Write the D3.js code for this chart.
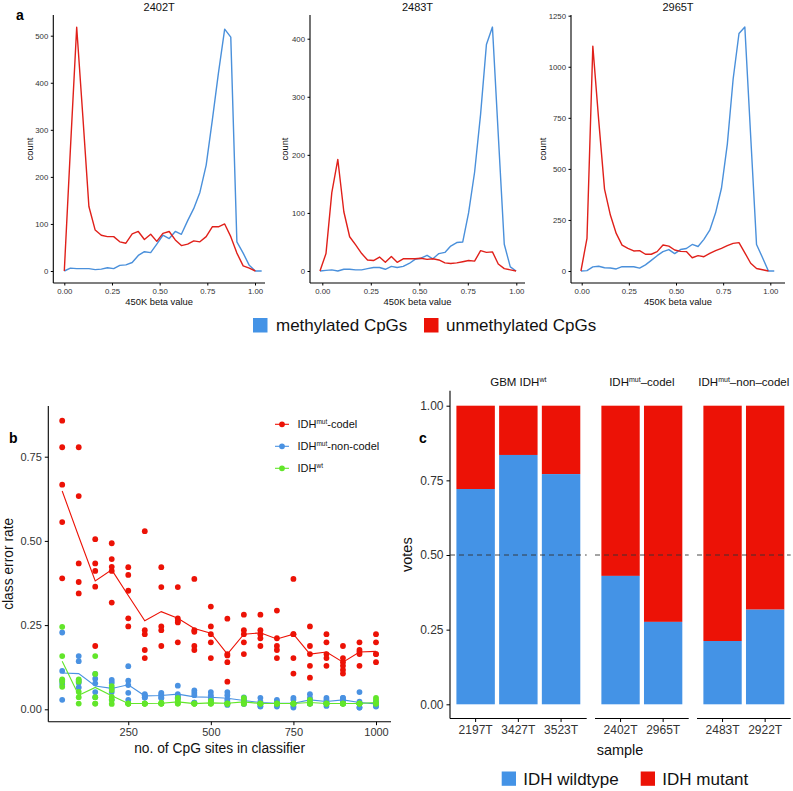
<!DOCTYPE html>
<html><head><meta charset="utf-8">
<script src="https://cdn.jsdelivr.net/npm/d3@7"></script>
<style>
body{margin:0;background:#fff}
svg{display:block;font-family:"Liberation Sans",Arial,Helvetica,sans-serif}
</style>
</head><body>
<svg id="chart" width="793" height="791"></svg>
<script>
// ---------------- DATA ----------------
// Panel a: frequency polygons of 450K beta values (bin centres and counts)
const bins2402T = [0.000,0.032,0.065,0.097,0.129,0.162,0.194,0.226,0.259,0.291,0.323,0.356,0.388,0.420,0.453,0.485,0.517,0.550,0.582,0.614,0.647,0.679,0.711,0.744,0.776,0.808,0.841,0.873,0.905,0.938,0.970,1.002,1.035];
const meth2402T   = [0,6,5,5,5,3,4,7,5,12,13,18,33,41,39,57,76,69,84,78,107,133,167,225,320,420,514,497,62,38,12,0,0];
const unmeth2402T = [0,259,518,330,137,87,76,73,73,62,59,79,84,67,78,63,80,84,66,54,57,64,62,73,94,94,100,73,38,11,6,0];

const bins2483T = [-0.012,0.019,0.049,0.080,0.111,0.141,0.172,0.203,0.233,0.264,0.295,0.325,0.356,0.386,0.417,0.448,0.478,0.509,0.540,0.570,0.601,0.632,0.662,0.693,0.724,0.754,0.785,0.816,0.846,0.877,0.907,0.938,0.969,0.999];
const meth2483T   = [0,1,2,0,3,3,2,2,4,6,6,3,8,6,8,13,20,22,27,21,30,32,43,49,50,100,170,270,390,420,235,46,7,0];
const unmeth2483T = [0,30,135,192,102,59,45,30,19,18,24,15,25,15,21,21,21,22,20,21,19,14,13,14,16,18,17,35,32,33,12,4,2,0];

const bins2965T = [-0.004,0.028,0.059,0.090,0.121,0.152,0.183,0.214,0.245,0.276,0.307,0.338,0.369,0.400,0.431,0.462,0.493,0.524,0.555,0.586,0.617,0.648,0.679,0.710,0.741,0.772,0.803,0.834,0.865,0.896,0.927,0.959,0.990,1.021];
const meth2965T   = [0,2,20,23,16,15,10,21,21,21,14,30,52,75,95,105,85,105,110,130,120,155,200,285,405,620,940,1163,1195,660,130,65,0,0];
const unmeth2965T = [0,160,1101,740,401,274,184,127,111,98,100,82,82,95,127,122,103,96,95,65,75,70,86,100,111,124,135,139,89,38,12,6,0];

const betaTicks = [0,0.25,0.5,0.75,1];
const countTicks2402T = [0,100,200,300,400,500];
const countTicks2483T = [0,100,200,300,400];
const countTicks2965T = [0,250,500,750,1000,1250];
const methLegend = ["methylated CpGs","unmethylated CpGs"];

// Panel b: class error rate vs number of CpG sites
const nSites = [50,100,150,200,250,300,350,400,450,500,550,600,650,700,750,800,850,900,950,1000];
const errCodel = [
 [0.857,0.778,0.667,0.556,0.389],[0.778,0.633,0.433,0.378,0.344],[0.505,0.433,0.411,0.364,0.188],
 [0.493,0.446,0.423,0.411,0.317],[0.422,0.399,0.352,0.270,0.246],[0.529,0.235,0.223,0.176,0.152],
 [0.422,0.363,0.246,0.235,0.188],[0.363,0.270,0.262,0.258,0.199],[0.387,0.235,0.230,0.188,0.176],
 [0.305,0.246,0.223,0.199,0.152],[0.269,0.164,0.160,0.140,0.082],[0.281,0.235,0.223,0.199,0.164],
 [0.281,0.235,0.223,0.211,0.188],[0.293,0.211,0.188,0.176,0.152],[0.387,0.223,0.223,0.152,0.106],
 [0.246,0.188,0.164,0.129,0.094],[0.223,0.199,0.164,0.152,0.129],[0.188,0.152,0.140,0.129,0.117,0.106],
 [0.199,0.176,0.170,0.164,0.129],[0.223,0.199,0.164,0.164,0.140]];
const errNonCodel = [
 [0.228,0.114,0.085,0.075,0.028],[0.158,0.143,0.085,0.079,0.065],[0.105,0.091,0.077,0.051,0.036],
 [0.087,0.079,0.062,0.051,0.028],[0.128,0.085,0.072,0.049,0.028],[0.045,0.042,0.040,0.035,0.035],
 [0.049,0.045,0.040,0.035,0.033],[0.070,0.045,0.040,0.035,0.033],[0.056,0.049,0.042,0.020,0.020],
 [0.051,0.042,0.035,0.028,0.025],[0.051,0.042,0.030,0.023,0.013],[0.035,0.028,0.025,0.023,0.016],
 [0.034,0.023,0.016,0.010,0.008],[0.028,0.023,0.017,0.012,0.008],[0.034,0.028,0.017,0.010,0.005],
 [0.045,0.034,0.028,0.017,0.017],[0.034,0.028,0.023,0.017,0.010],[0.034,0.034,0.028,0.023,0.017],
 [0.051,0.023,0.017,0.005,0.005],[0.023,0.017,0.017,0.010,0.008]];
const errWt = [
 [0.245,0.158,0.089,0.082,0.067],[0.089,0.082,0.052,0.036,0.017],[0.158,0.105,0.036,0.017,0.017],
 [0.069,0.057,0.037,0.028,0.016],[0.017,0.017,0.017,0.017,0.017],[0.017,0.017,0.017,0.017,0.017],
 [0.020,0.017,0.017,0.017,0.017],[0.034,0.028,0.023,0.017,0.017],[0.017,0.017,0.017,0.017,0.017],
 [0.025,0.020,0.017,0.017,0.017],[0.017,0.017,0.017,0.017,0.017],[0.034,0.028,0.017,0.017,0.017],
 [0.017,0.017,0.017,0.017,0.017],[0.017,0.017,0.017,0.017,0.017],[0.017,0.017,0.017,0.017,0.017],
 [0.028,0.020,0.017,0.017,0.017],[0.017,0.017,0.017,0.017,0.017],[0.017,0.017,0.017,0.017,0.017],
 [0.017,0.017,0.017,0.017,0.017],[0.034,0.028,0.017,0.017,0.017]];
const meanCodel    = [0.648,0.513,0.381,0.414,0.338,0.263,0.290,0.270,0.240,0.226,0.164,0.223,0.227,0.209,0.223,0.164,0.170,0.140,0.170,0.172];
const meanNonCodel = [0.108,0.106,0.069,0.062,0.073,0.040,0.041,0.045,0.037,0.036,0.033,0.026,0.020,0.018,0.018,0.028,0.023,0.028,0.020,0.016];
const meanWt       = [0.143,0.042,0.065,0.040,0.017,0.017,0.018,0.022,0.017,0.019,0.018,0.022,0.017,0.017,0.017,0.020,0.017,0.017,0.017,0.020];
const errTicksX = [250,500,750,1000];
const errTicksY = [0,0.25,0.5,0.75];

// Panel c: classifier votes per sample
const samples = ["2197T","3427T","3523T","2402T","2965T","2483T","2922T"];
const sampleGroup = [0,0,0,1,1,2,2];
const wildtypeVotes = [0.721,0.835,0.771,0.430,0.276,0.212,0.317];
const voteTicks = [0,0.25,0.5,0.75,1];
const voteLegend = ["IDH wildtype","IDH mutant"];

// ---------------- STYLE ----------------
const BLUE = "#4493E6", RED = "#EC1206", GREEN = "#62E62A";
const LBLUE = "#4A90DB", LRED = "#E0201A";
const TXT = "#333";
const svg = d3.select("#chart");

function styleAxis(sel, fs){
  sel.select(".domain").remove();
  sel.selectAll(".tick line").attr("stroke","#000").attr("stroke-width",1);
  sel.selectAll(".tick text").attr("fill",TXT).style("font-size",fs+"px")
     .style("font-family",'"Liberation Sans",Arial,Helvetica,sans-serif');
}
function hline(g,x1,x2,y){g.append("line").attr("x1",x1).attr("x2",x2).attr("y1",y).attr("y2",y).attr("stroke","#000").attr("stroke-width",1.1);}
function vline(g,x,y1,y2){g.append("line").attr("x1",x).attr("x2",x).attr("y1",y1).attr("y2",y2).attr("stroke","#000").attr("stroke-width",1.1);}

// ---------------- PANEL A ----------------
function histPanel(o){
  const g = svg.append("g");
  const x = d3.scaleLinear().domain([0,1]).range([o.x0,o.x1]);
  const y = d3.scaleLinear().domain([0,o.yRefVal]).range([271,o.yRefPx]);
  const axY = 283;
  const xa = g.append("g").attr("transform",`translate(0,${axY})`)
    .call(d3.axisBottom(x).tickValues(betaTicks).tickFormat(d3.format(".2f")).tickSize(2.5).tickPadding(2.5));
  styleAxis(xa,7.8);
  const ya = g.append("g").attr("transform",`translate(${o.axisX},0)`)
    .call(d3.axisLeft(y).tickValues(o.yTicks).tickFormat(d3.format("d")).tickSize(2.5).tickPadding(2.5));
  styleAxis(ya,7.8);
  vline(g,o.axisX,15,axY); hline(g,o.axisX,o.xEnd,axY);
  const line = bins => d3.line().x((d,i)=>x(bins[i])).y(d=>y(d));
  g.append("path").datum(o.meth).attr("d",line(o.bins)).attr("fill","none").attr("stroke",LBLUE).attr("stroke-width",1.4).attr("stroke-linejoin","round");
  g.append("path").datum(o.unmeth).attr("d",line(o.bins)).attr("fill","none").attr("stroke",LRED).attr("stroke-width",1.4).attr("stroke-linejoin","round");
  g.append("text").attr("x",(o.axisX+o.xEnd)/2).attr("y",10.5).attr("text-anchor","middle").style("font-size","11px").attr("fill","#111").text(o.title);
  g.append("text").attr("x",(o.axisX+o.xEnd)/2).attr("y",304.5).attr("text-anchor","middle").style("font-size","9.4px").attr("fill","#111").text("450K beta value");
  g.append("text").attr("transform",`translate(${o.axisX-o.ylabOff},${(15+axY)/2}) rotate(-90)`).attr("text-anchor","middle").style("font-size","9.4px").attr("fill","#111").text("count");
}
histPanel({title:"2402T",axisX:53.3,xEnd:265,x0:64.3,x1:255,yRefVal:500,yRefPx:35.7,yTicks:countTicks2402T,bins:bins2402T,meth:meth2402T,unmeth:unmeth2402T,ylabOff:20});
histPanel({title:"2483T",axisX:310,xEnd:525,x0:322.3,x1:516.3,yRefVal:400,yRefPx:38.7,yTicks:countTicks2483T,bins:bins2483T,meth:meth2483T,unmeth:unmeth2483T,ylabOff:22});
histPanel({title:"2965T",axisX:571,xEnd:785,x0:581.7,x1:770.3,yRefVal:1250,yRefPx:15.7,yTicks:countTicks2965T,bins:bins2965T,meth:meth2965T,unmeth:unmeth2965T,ylabOff:25});
svg.append("text").attr("x",16).attr("y",20).style("font-size","14px").style("font-weight","bold").text("a");

// legend a
const legA = svg.append("g");
[[253,276],[424,446]].forEach((p,i)=>{
  legA.append("rect").attr("x",p[0]).attr("y",318).attr("width",14.5).attr("height",14.5).attr("fill",i?RED:BLUE);
  legA.append("text").attr("x",p[1]).attr("y",331).style("font-size","17px").attr("fill","#111").text(methLegend[i]);
});

// ---------------- PANEL B ----------------
(function(){
  const g = svg.append("g");
  const x = d3.scaleLinear().domain([50,1000]).range([62.2,376]);
  const y = d3.scaleLinear().domain([0,0.75]).range([709.3,456.7]);
  const axX = 48.3, axY = 721.7;
  const xa = g.append("g").attr("transform",`translate(0,${axY})`)
    .call(d3.axisBottom(x).tickValues(errTicksX).tickFormat(d3.format("d")).tickSize(3.5).tickPadding(3));
  styleAxis(xa,11);
  const ya = g.append("g").attr("transform",`translate(${axX},0)`)
    .call(d3.axisLeft(y).tickValues(errTicksY).tickFormat(d3.format(".2f")).tickSize(3.5).tickPadding(3));
  styleAxis(ya,11);
  vline(g,axX,406,axY); hline(g,axX,391,axY);
  const series = [[errCodel,meanCodel,RED],[errNonCodel,meanNonCodel,"#4A92E2"],[errWt,meanWt,GREEN]];
  series.forEach(([pts,mean,col])=>{
    const flat = [];
    pts.forEach((arr,i)=>arr.forEach(v=>flat.push([nSites[i],v])));
    g.append("g").selectAll("circle").data(flat).join("circle")
      .attr("cx",d=>x(d[0])).attr("cy",d=>y(d[1])).attr("r",2.9).attr("fill",col);
    g.append("path").datum(mean).attr("d",d3.line().x((d,i)=>x(nSites[i])).y(d=>y(d)))
      .attr("fill","none").attr("stroke",col).attr("stroke-width",1.1);
  });
  g.append("text").attr("x",(axX+391)/2).attr("y",752.5).attr("text-anchor","middle").style("font-size","13.8px").attr("fill","#111").text("no. of CpG sites in classifier");
  g.append("text").attr("transform",`translate(12.5,${(406+axY)/2}) rotate(-90)`).attr("text-anchor","middle").style("font-size","13.8px").attr("fill","#111").text("class error rate");
  // legend
  const lg = g.append("g");
  const labs = [["IDH","mut","-codel"],["IDH","mut","-non-codel"],["IDH","wt",""]];
  series.forEach((s,i)=>{
    const yy = 424.3 + i*22;
    lg.append("line").attr("x1",275).attr("x2",289).attr("y1",yy).attr("y2",yy).attr("stroke",s[2]).attr("stroke-width",1.1);
    lg.append("circle").attr("cx",282).attr("cy",yy).attr("r",2.9).attr("fill",s[2]);
    const t = lg.append("text").attr("x",297.5).attr("y",yy+4).style("font-size","11px").attr("fill","#111");
    t.append("tspan").text(labs[i][0]);
    t.append("tspan").attr("dy",-4).style("font-size","6.5px").text(labs[i][1]);
    t.append("tspan").attr("dy",4).text(labs[i][2]);
  });
  svg.append("text").attr("x",9).attr("y",443).style("font-size","14px").style("font-weight","bold").text("b");
})();

// ---------------- PANEL C ----------------
(function(){
  const g = svg.append("g");
  const y = d3.scaleLinear().domain([0,1]).range([704.3,405.7]);
  const axX = 450, axY = 718.5;
  const facets = [
    {range:[450,586.7], label:["GBM IDH","wt",""]},
    {range:[595,688.7], label:["IDH","mut","–codel"]},
    {range:[697,790.7], label:["IDH","mut","–non–codel"]}];
  const ya = g.append("g").attr("transform",`translate(${axX},0)`)
    .call(d3.axisLeft(y).tickValues(voteTicks).tickFormat(d3.format(".2f")).tickSize(3.5).tickPadding(3));
  styleAxis(ya,12);
  vline(g,axX,390.8,axY);
  facets.forEach((f,fi)=>{
    const idx = samples.map((s,i)=>i).filter(i=>sampleGroup[i]===fi);
    const x = d3.scaleBand().domain(idx.map(i=>samples[i])).range(f.range).paddingInner(0.1).paddingOuter(0.15);
    const bars = g.append("g");
    idx.forEach(i=>{
      const s = samples[i], w = wildtypeVotes[i];
      bars.append("rect").attr("x",x(s)).attr("width",x.bandwidth()).attr("y",y(1)).attr("height",y(w)-y(1)).attr("fill",RED);
      bars.append("rect").attr("x",x(s)).attr("width",x.bandwidth()).attr("y",y(w)).attr("height",y(0)-y(w)).attr("fill",BLUE);
    });
    g.append("line").attr("x1",f.range[0]).attr("x2",f.range[1]).attr("y1",y(0.5)).attr("y2",y(0.5))
      .attr("stroke","#333").attr("stroke-width",0.9).attr("stroke-dasharray","5,4");
    const xa = g.append("g").attr("transform",`translate(0,${axY})`)
      .call(d3.axisBottom(x).tickSize(3.5).tickPadding(3));
    styleAxis(xa,12);
    hline(g,f.range[0],f.range[1],axY);
    const t = g.append("text").attr("x",(f.range[0]+f.range[1])/2).attr("y",385.5).attr("text-anchor","middle").style("font-size","11.5px").attr("fill","#111");
    t.append("tspan").text(f.label[0]);
    t.append("tspan").attr("dy",-4).style("font-size","7px").text(f.label[1]);
    t.append("tspan").attr("dy",4).text(f.label[2]);
  });
  g.append("text").attr("x",620).attr("y",755).attr("text-anchor","middle").style("font-size","14.5px").attr("fill","#111").text("sample");
  g.append("text").attr("transform",`translate(412,${(390.8+axY)/2}) rotate(-90)`).attr("text-anchor","middle").style("font-size","14.5px").attr("fill","#111").text("votes");
  // legend
  [[501.7,523.3],[640.7,662.3]].forEach((p,i)=>{
    g.append("rect").attr("x",p[0]).attr("y",771.5).attr("width",14.3).attr("height",14.3).attr("fill",i?RED:BLUE);
    g.append("text").attr("x",p[1]).attr("y",784.5).style("font-size","17px").attr("fill","#111").text(voteLegend[i]);
  });
  svg.append("text").attr("x",419).attr("y",443).style("font-size","14px").style("font-weight","bold").text("c");
})();
</script>
</body></html>
